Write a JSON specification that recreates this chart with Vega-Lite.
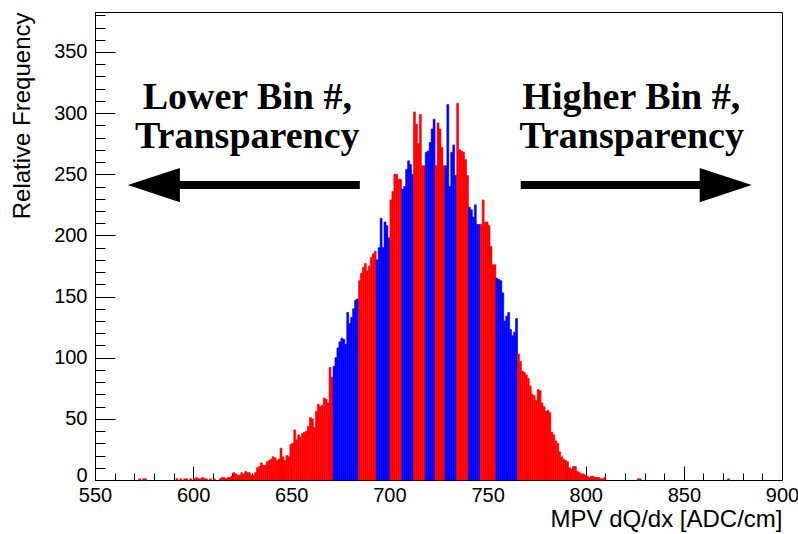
{
  "$schema": "https://vega.github.io/schema/vega-lite/v6.json",
  "width": 687,
  "height": 468,
  "autosize": {"type": "none"},
  "padding": {"left": 95, "top": 12, "right": 16, "bottom": 54},
  "background": "#ffffff",
  "config": {
    "view": {"stroke": "#000000", "strokeWidth": 1},
    "font": "Liberation Sans"
  },
  "datasets": {
    "bins": [
      {"x":572,"y":1,"c":"R"},{"x":574,"y":1,"c":"R"},{"x":575,"y":1,"c":"R"},
      {"x":591,"y":1,"c":"R"},{"x":593,"y":1,"c":"R"},{"x":595,"y":1,"c":"R"},{"x":596,"y":1,"c":"R"},
      {"x":598,"y":1,"c":"R"},{"x":600,"y":1,"c":"R"},{"x":601,"y":2,"c":"R"},{"x":602,"y":1,"c":"R"},
      {"x":603,"y":1,"c":"R"},{"x":604,"y":2,"c":"R"},{"x":605,"y":1,"c":"R"},{"x":606,"y":1,"c":"R"},
      {"x":608,"y":1,"c":"R"},{"x":610,"y":1,"c":"R"},{"x":613,"y":1,"c":"R"},{"x":614,"y":2,"c":"R"},
      {"x":615,"y":2,"c":"R"},{"x":616,"y":1,"c":"R"},{"x":617,"y":2,"c":"R"},{"x":618,"y":2,"c":"R"},
      {"x":619,"y":3,"c":"R"},{"x":620,"y":6,"c":"R"},{"x":621,"y":5,"c":"R"},{"x":622,"y":4,"c":"R"},
      {"x":623,"y":4,"c":"R"},{"x":624,"y":6,"c":"R"},{"x":625,"y":5,"c":"R"},{"x":626,"y":7,"c":"R"},
      {"x":627,"y":6,"c":"R"},{"x":628,"y":6,"c":"R"},{"x":629,"y":4,"c":"R"},{"x":630,"y":4,"c":"R"},
      {"x":631,"y":6,"c":"R"},{"x":632,"y":10,"c":"R"},{"x":633,"y":11,"c":"R"},{"x":634,"y":14,"c":"R"},
      {"x":635,"y":12,"c":"R"},{"x":636,"y":12,"c":"R"},{"x":637,"y":15,"c":"R"},{"x":638,"y":16,"c":"R"},
      {"x":639,"y":17,"c":"R"},{"x":640,"y":19,"c":"R"},{"x":641,"y":18,"c":"R"},{"x":642,"y":16,"c":"R"},
      {"x":643,"y":17,"c":"R"},{"x":644,"y":26,"c":"R"},{"x":645,"y":19,"c":"R"},{"x":646,"y":16,"c":"R"},
      {"x":647,"y":20,"c":"R"},{"x":648,"y":19,"c":"R"},{"x":649,"y":29,"c":"R"},{"x":650,"y":30,"c":"R"},
      {"x":651,"y":41,"c":"R"},{"x":652,"y":33,"c":"R"},{"x":653,"y":37,"c":"R"},{"x":654,"y":35,"c":"R"},
      {"x":655,"y":38,"c":"R"},{"x":656,"y":39,"c":"R"},{"x":657,"y":40,"c":"R"},{"x":658,"y":44,"c":"R"},
      {"x":659,"y":51,"c":"R"},{"x":660,"y":50,"c":"R"},{"x":661,"y":43,"c":"R"},{"x":662,"y":56,"c":"R"},
      {"x":663,"y":62,"c":"R"},{"x":664,"y":60,"c":"R"},{"x":665,"y":61,"c":"R"},{"x":666,"y":67,"c":"R"},
      {"x":667,"y":66,"c":"R"},{"x":668,"y":63,"c":"R"},{"x":669,"y":92,"c":"R"},{"x":670,"y":84,"c":"R"},
      {"x":671,"y":93,"c":"B"},{"x":672,"y":100,"c":"B"},{"x":673,"y":108,"c":"B"},{"x":674,"y":113,"c":"B"},
      {"x":675,"y":116,"c":"B"},{"x":676,"y":115,"c":"B"},{"x":677,"y":111,"c":"B"},{"x":678,"y":137,"c":"B"},
      {"x":679,"y":128,"c":"B"},{"x":680,"y":133,"c":"B"},{"x":681,"y":140,"c":"B"},{"x":682,"y":147,"c":"B"},
      {"x":683,"y":148,"c":"B"},
      {"x":684,"y":163,"c":"R"},{"x":685,"y":169,"c":"R"},{"x":686,"y":174,"c":"R"},{"x":687,"y":177,"c":"R"},
      {"x":688,"y":171,"c":"R"},{"x":689,"y":175,"c":"R"},{"x":690,"y":182,"c":"R"},{"x":691,"y":185,"c":"R"},
      {"x":692,"y":187,"c":"R"},
      {"x":693,"y":180,"c":"B"},{"x":694,"y":190,"c":"B"},{"x":695,"y":214,"c":"B"},{"x":696,"y":190,"c":"B"},
      {"x":697,"y":211,"c":"B"},{"x":698,"y":208,"c":"B"},{"x":699,"y":198,"c":"B"},
      {"x":700,"y":229,"c":"R"},{"x":701,"y":236,"c":"R"},{"x":702,"y":250,"c":"R"},{"x":703,"y":250,"c":"R"},
      {"x":704,"y":246,"c":"R"},{"x":705,"y":246,"c":"R"},
      {"x":706,"y":238,"c":"B"},{"x":707,"y":240,"c":"B"},{"x":708,"y":254,"c":"B"},{"x":709,"y":261,"c":"B"},
      {"x":710,"y":258,"c":"B"},{"x":711,"y":250,"c":"B"},
      {"x":712,"y":301,"c":"R"},{"x":713,"y":291,"c":"R"},{"x":714,"y":275,"c":"R"},{"x":715,"y":299,"c":"R"},
      {"x":716,"y":257,"c":"R"},{"x":717,"y":257,"c":"R"},
      {"x":718,"y":268,"c":"B"},{"x":719,"y":269,"c":"B"},{"x":720,"y":276,"c":"B"},{"x":721,"y":287,"c":"B"},
      {"x":722,"y":295,"c":"B"},
      {"x":723,"y":257,"c":"R"},{"x":724,"y":292,"c":"R"},{"x":725,"y":287,"c":"R"},{"x":726,"y":272,"c":"R"},
      {"x":727,"y":257,"c":"R"},
      {"x":728,"y":257,"c":"B"},{"x":729,"y":307,"c":"B"},{"x":730,"y":240,"c":"B"},{"x":731,"y":268,"c":"B"},
      {"x":732,"y":274,"c":"B"},{"x":733,"y":249,"c":"B"},
      {"x":734,"y":308,"c":"R"},{"x":735,"y":270,"c":"R"},{"x":736,"y":269,"c":"R"},{"x":737,"y":268,"c":"R"},
      {"x":738,"y":262,"c":"R"},{"x":739,"y":249,"c":"R"},
      {"x":740,"y":223,"c":"B"},{"x":741,"y":221,"c":"B"},{"x":742,"y":215,"c":"B"},{"x":743,"y":225,"c":"B"},
      {"x":744,"y":209,"c":"B"},{"x":745,"y":209,"c":"B"},
      {"x":746,"y":209,"c":"R"},{"x":747,"y":229,"c":"R"},{"x":748,"y":211,"c":"R"},{"x":749,"y":211,"c":"R"},
      {"x":750,"y":208,"c":"R"},{"x":751,"y":191,"c":"R"},{"x":752,"y":176,"c":"R"},{"x":753,"y":176,"c":"R"},
      {"x":754,"y":165,"c":"B"},{"x":755,"y":164,"c":"B"},{"x":756,"y":163,"c":"B"},{"x":757,"y":153,"c":"B"},
      {"x":758,"y":130,"c":"B"},{"x":759,"y":134,"c":"B"},{"x":760,"y":137,"c":"B"},{"x":761,"y":123,"c":"B"},
      {"x":762,"y":118,"c":"B"},{"x":763,"y":121,"c":"B"},{"x":764,"y":132,"c":"B"},
      {"x":765,"y":103,"c":"R"},{"x":766,"y":97,"c":"R"},{"x":767,"y":89,"c":"R"},{"x":768,"y":88,"c":"R"},
      {"x":769,"y":86,"c":"R"},{"x":770,"y":83,"c":"R"},{"x":771,"y":77,"c":"R"},{"x":772,"y":70,"c":"R"},
      {"x":773,"y":69,"c":"R"},{"x":774,"y":65,"c":"R"},{"x":775,"y":74,"c":"R"},{"x":776,"y":73,"c":"R"},
      {"x":777,"y":63,"c":"R"},{"x":778,"y":60,"c":"R"},{"x":779,"y":56,"c":"R"},{"x":780,"y":57,"c":"R"},
      {"x":781,"y":55,"c":"R"},{"x":782,"y":39,"c":"R"},{"x":783,"y":37,"c":"R"},{"x":784,"y":32,"c":"R"},
      {"x":785,"y":30,"c":"R"},{"x":786,"y":23,"c":"R"},{"x":787,"y":19,"c":"R"},{"x":788,"y":17,"c":"R"},
      {"x":789,"y":16,"c":"R"},{"x":790,"y":15,"c":"R"},{"x":791,"y":10,"c":"R"},{"x":792,"y":9,"c":"R"},
      {"x":793,"y":11,"c":"R"},{"x":794,"y":11,"c":"R"},{"x":795,"y":7,"c":"R"},{"x":796,"y":6,"c":"R"},
      {"x":797,"y":5,"c":"R"},{"x":798,"y":5,"c":"R"},{"x":799,"y":4,"c":"R"},{"x":800,"y":3,"c":"R"},
      {"x":801,"y":2,"c":"R"},{"x":802,"y":3,"c":"R"},{"x":803,"y":3,"c":"R"},{"x":804,"y":2,"c":"R"},
      {"x":805,"y":2,"c":"R"},{"x":806,"y":2,"c":"R"},{"x":807,"y":1,"c":"R"},{"x":808,"y":1,"c":"R"},
      {"x":809,"y":2,"c":"R"},{"x":826,"y":1,"c":"R"},{"x":827,"y":1,"c":"R"},{"x":872,"y":1,"c":"R"}
    ],
    "shafts": [
      {"x": 590.7, "xe": 684.9, "y": 241.2},
      {"x": 766.9, "xe": 860.6, "y": 241.2}
    ],
    "heads": [
      {"x": 580.0, "y": 241.2, "dir": "L"},
      {"x": 871.3, "y": 241.2, "dir": "R"}
    ],
    "notes": [
      {"x": 627.6, "y": 303.4, "t": "Lower Bin #,"},
      {"x": 627.6, "y": 271.5, "t": "Transparency"},
      {"x": 823.2, "y": 303.4, "t": "Higher Bin #,"},
      {"x": 823.4, "y": 271.5, "t": "Transparency"}
    ]
  },
  "layer": [
    {
      "data": {"name": "bins"},
      "mark": {"type": "bar", "binSpacing": 0, "strokeWidth": 0.6},
      "encoding": {
        "x": {
          "field": "x", "type": "quantitative",
          "bin": {"binned": true, "step": 1},
          "scale": {"domain": [550, 900], "nice": false, "zero": false},
          "axis": {
            "title": "MPV dQ/dx [ADC/cm]",
            "values": [550,560,570,580,590,600,610,620,630,640,650,660,670,680,690,700,710,720,730,740,750,760,770,780,790,800,810,820,830,840,850,860,870,880,890,900],
            "tickCount": 1000,
            "format": "d",
            "labelExpr": "datum.value % 50 === 0 ? datum.label : ''",
            "labelOverlap": false,
            "labelFlush": false,
            "grid": false,
            "tickSize": {"condition": {"test": "datum.value % 50 === 0", "value": -14}, "value": -7},
            "tickColor": "#000000",
            "tickWidth": 1,
            "domainColor": "#000000",
            "labelPadding": 19,
            "labelFontSize": 20,
            "labelColor": "#000000",
            "labelFont": "Liberation Sans",
            "titleFont": "Liberation Sans",
            "titleFontSize": 24,
            "titleFontWeight": "normal",
            "titleColor": "#000000",
            "titleAnchor": "end",
            "titlePadding": -5
          }
        },
        "y": {
          "field": "y", "type": "quantitative",
          "scale": {"domain": [0, 382.7], "nice": false},
          "axis": {
            "title": "Relative Frequency",
            "values": [0,10,20,30,40,50,60,70,80,90,100,110,120,130,140,150,160,170,180,190,200,210,220,230,240,250,260,270,280,290,300,310,320,330,340,350,360,370,380],
            "tickCount": 1000,
            "format": "d",
            "labelExpr": "datum.value % 50 === 0 ? datum.label : ''",
            "labelOverlap": false,
            "labelFlush": false,
            "labelOffset": {"condition": {"test": "datum.value === 0", "value": -5}, "value": 0},
            "grid": false,
            "tickSize": {"condition": {"test": "datum.value % 50 === 0", "value": -20}, "value": -10},
            "tickColor": "#000000",
            "tickWidth": 1,
            "domainColor": "#000000",
            "labelPadding": 28,
            "labelFontSize": 20,
            "labelColor": "#000000",
            "labelFont": "Liberation Sans",
            "titleFont": "Liberation Sans",
            "titleFontSize": 24,
            "titleFontWeight": "normal",
            "titleColor": "#000000",
            "titleAnchor": "end",
            "titlePadding": 19
          }
        },
        "color": {
          "field": "c", "type": "nominal",
          "scale": {"domain": ["R", "B"], "range": ["#ff0000", "#0000ff"]},
          "legend": null
        },
        "stroke": {
          "field": "c", "type": "nominal",
          "scale": {"domain": ["R", "B"], "range": ["#ff0000", "#0000ff"]},
          "legend": null
        }
      }
    },
    {
      "data": {"name": "shafts"},
      "mark": {"type": "rule", "strokeWidth": 8, "color": "#000000", "strokeCap": "butt"},
      "encoding": {
        "x": {"field": "x", "type": "quantitative"},
        "x2": {"field": "xe"},
        "y": {"field": "y", "type": "quantitative"}
      }
    },
    {
      "data": {"name": "heads"},
      "mark": {"type": "point", "filled": true, "size": 2704, "color": "#000000", "opacity": 1, "strokeWidth": 0},
      "encoding": {
        "x": {"field": "x", "type": "quantitative"},
        "y": {"field": "y", "type": "quantitative"},
        "shape": {
          "field": "dir", "type": "nominal",
          "scale": {"domain": ["L", "R"], "range": ["M-1,0L1,-0.66L1,0.66Z", "M1,0L-1,-0.66L-1,0.66Z"]},
          "legend": null
        }
      }
    },
    {
      "data": {"name": "notes"},
      "mark": {"type": "text", "font": "Liberation Serif", "fontWeight": "bold", "fontSize": 38, "align": "center", "baseline": "alphabetic", "color": "#000000"},
      "encoding": {
        "x": {"field": "x", "type": "quantitative"},
        "y": {"field": "y", "type": "quantitative"},
        "text": {"field": "t"}
      }
    }
  ]
}
